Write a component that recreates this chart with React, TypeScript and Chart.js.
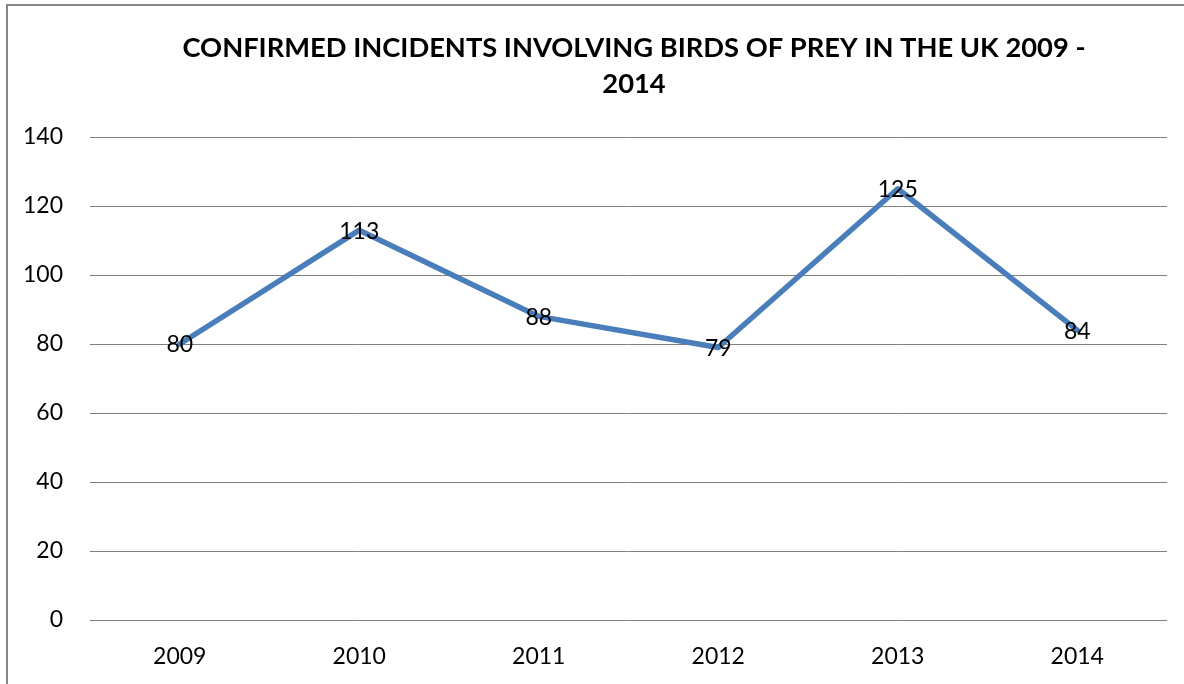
import React, { useEffect, useRef } from "react";
import { Chart, registerables } from "chart.js";

Chart.register(...registerables);

const years: string[] = ["2009", "2010", "2011", "2012", "2013", "2014"];
const incidents: number[] = [80, 113, 88, 79, 125, 84];
const titleLines: string[] = [
  "CONFIRMED INCIDENTS INVOLVING BIRDS OF PREY IN THE UK 2009 -",
  "2014",
];
const yMin = 0;
const yMax = 140;
const yStep = 20;

const FONT = "Lato";

export default function App() {
  const ref = useRef<HTMLCanvasElement>(null);

  useEffect(() => {
    if (!ref.current) return;

    const frame = {
      id: "frame",
      beforeDraw(chart: any) {
        const ctx = chart.ctx;
        ctx.save();
        ctx.fillStyle = "#ffffff";
        ctx.fillRect(0, 0, chart.width, chart.height);
        ctx.strokeStyle = "#868686";
        ctx.lineWidth = 2;
        ctx.strokeRect(7, 5, chart.width + 40, chart.height + 40);
        ctx.restore();
      },
    };

    const customTitle = {
      id: "customTitle",
      afterDraw(chart: any) {
        const ctx = chart.ctx;
        ctx.save();
        ctx.fillStyle = "#000000";
        ctx.font = `bold 27.3px ${FONT}`;
        ctx.textAlign = "center";
        ctx.textBaseline = "middle";
        titleLines.forEach((line, i) => {
          ctx.fillText(line, 634, 48 + i * 36);
        });
        ctx.restore();
      },
    };

    const pointLabels = {
      id: "pointLabels",
      afterDatasetsDraw(chart: any) {
        const ctx = chart.ctx;
        const meta = chart.getDatasetMeta(0);
        const data = chart.data.datasets[0].data;
        ctx.save();
        ctx.fillStyle = "#000000";
        ctx.font = `23px ${FONT}`;
        ctx.textAlign = "center";
        ctx.textBaseline = "middle";
        meta.data.forEach((pt: any, i: number) => {
          ctx.fillText(String(data[i]), pt.x, pt.y + 1);
        });
        ctx.restore();
      },
    };

    const chart = new Chart(ref.current, {
      type: "line",
      data: {
        labels: years,
        datasets: [
          {
            label: "Confirmed incidents",
            data: incidents,
            borderColor: "#4A7EBB",
            backgroundColor: "#4A7EBB",
            borderWidth: 5.5,
            pointRadius: 0,
            pointHoverRadius: 0,
            tension: 0,
            borderJoinStyle: "round",
            borderCapStyle: "round",
          },
        ],
      },
      options: {
        animation: false,
        responsive: true,
        maintainAspectRatio: false,
        layout: { padding: { top: 137, left: 0, right: 17, bottom: 0 } },
        plugins: {
          legend: { display: false },
          title: { display: false },
          tooltip: { enabled: false },
        },
        scales: {
          x: {
            offset: true,
            grid: { display: false, drawTicks: false },
            border: { display: false },
            ticks: {
              color: "#000000",
              font: { family: FONT, size: 23 },
              padding: 23,
              maxRotation: 0,
            },
            afterFit(scale: any) {
              scale.height = 64;
            },
          },
          y: {
            min: yMin,
            max: yMax,
            grid: { color: "#808080", lineWidth: 1, drawTicks: false },
            border: { display: false },
            ticks: {
              stepSize: yStep,
              color: "#000000",
              font: { family: FONT, size: 23 },
              padding: 27,
            },
            afterFit(scale: any) {
              scale.width = 90;
            },
          },
        },
      },
      plugins: [frame, customTitle, pointLabels],
    });

    return () => chart.destroy();
  }, []);

  return (
    <div style={{ position: "fixed", left: 0, top: 0, width: 1184, height: 684 }}>
      <canvas ref={ref} />
    </div>
  );
}
